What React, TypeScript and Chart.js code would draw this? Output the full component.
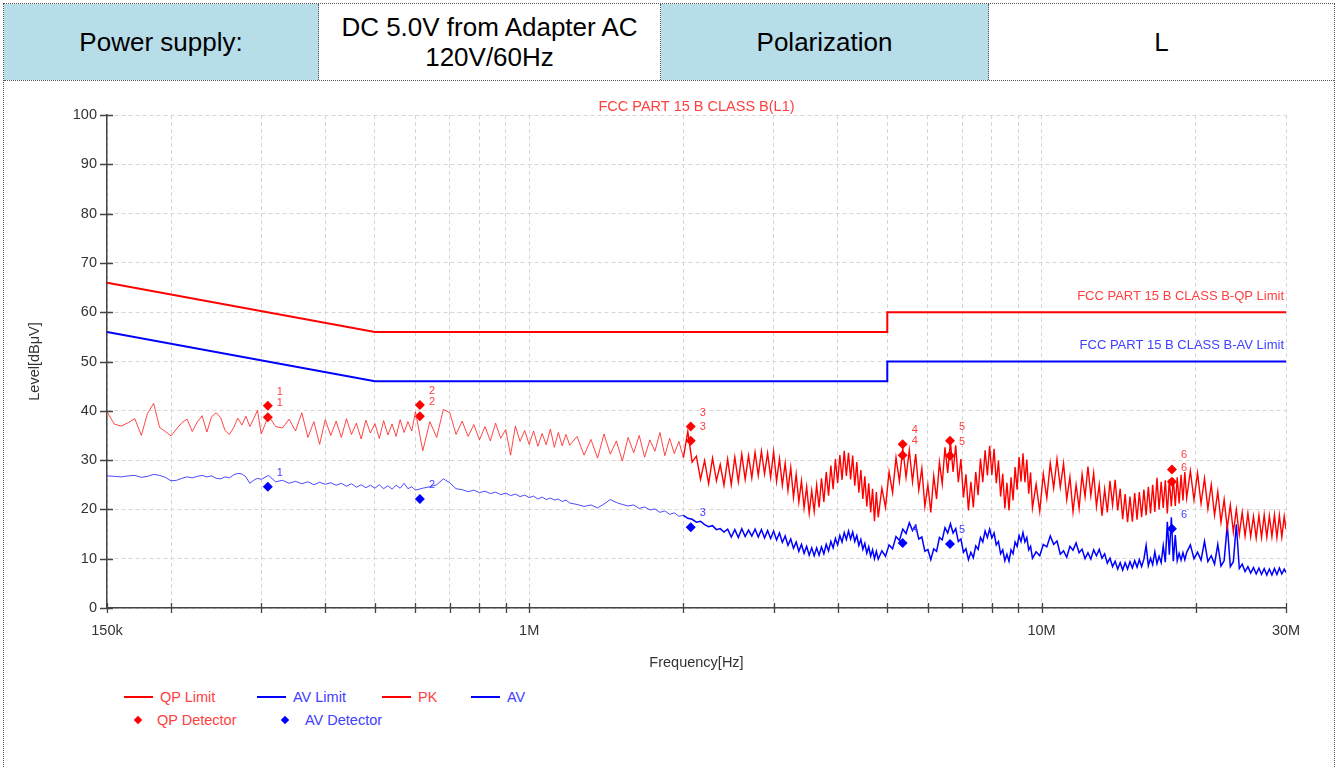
import React, { useEffect, useRef } from 'react';
import { Chart, registerables } from 'chart.js';

Chart.register(...registerables);

const FONT = '"Liberation Sans", Arial, Helvetica, sans-serif';

// ---------- sweep frequencies (kHz) ----------
const F1 = [150, 155, 160, 165, 170, 175, 180, 185, 190, 195, 200, 205, 210, 215, 220, 225, 230, 235, 240, 245, 250, 255, 260, 265, 270, 275, 280, 285, 290, 295, 300];
const F2 = [310, 320, 330, 340, 350, 360, 370, 380, 390, 400, 410, 420, 430, 440, 450, 460, 470, 480, 490, 500, 510, 520, 530, 540, 550, 560, 570, 580, 590, 600];
const F3 = [620, 640, 660, 680, 700, 720, 740, 760, 780, 800, 820, 840, 860, 880, 900, 920, 940, 960, 980, 1000, 1020, 1040, 1060, 1080, 1100, 1120, 1140, 1160, 1180, 1200];
const F4 = [1240, 1280, 1320, 1360, 1400, 1440, 1480, 1520, 1560, 1600, 1640, 1680, 1720, 1760, 1800, 1840, 1880, 1920, 1960, 2000, 2040, 2080, 2120, 2160, 2200, 2240, 2280, 2320, 2360, 2400];
const F5 = [2440, 2480, 2520, 2560, 2600, 2640, 2680, 2720, 2760, 2800, 2840, 2880, 2920, 2960, 3000, 3040, 3080, 3120, 3160, 3200, 3240, 3280, 3320, 3360, 3400, 3440, 3480, 3520, 3560, 3600, 3640, 3680, 3720, 3760, 3800, 3840, 3880, 3920, 3960, 4000, 4040, 4080, 4120, 4160, 4200, 4240, 4280, 4320, 4360, 4400, 4440, 4480, 4520, 4560, 4600, 4640, 4680, 4720, 4760, 4800];
const F6 = [4880, 4960, 5040, 5120, 5200, 5280, 5360, 5440, 5520, 5600, 5680, 5760, 5840, 5920, 6000, 6080, 6160, 6240, 6320, 6400, 6480, 6560, 6640, 6720, 6800, 6880, 6960, 7040, 7120, 7200, 7280, 7360, 7440, 7520, 7600, 7680, 7760, 7840, 7920, 8000, 8080, 8160, 8240, 8320, 8400, 8480, 8560, 8640, 8720, 8800, 8880, 8960, 9040, 9120, 9200, 9280, 9360, 9440, 9520, 9600];
const F7 = [9760, 9920, 10080, 10240, 10400, 10560, 10720, 10880, 11040, 11200, 11360, 11520, 11680, 11840, 12000, 12160, 12320, 12480, 12640, 12800, 12960, 13120, 13280, 13440, 13600, 13760, 13920, 14080, 14240, 14400, 14560, 14720, 14880, 15040, 15200, 15360, 15520, 15680, 15840, 16000, 16160, 16320, 16480, 16640, 16800, 16960, 17120, 17280, 17440, 17600, 17760, 17920, 18080, 18240, 18400, 18560, 18720, 18880, 19040, 19200];
const F8 = [19520, 19840, 20160, 20480, 20800, 21120, 21440, 21760, 22080, 22400, 22720, 23040, 23360, 23680, 24000, 24320, 24640, 24960, 25280, 25600, 25920, 26240, 26560, 26880, 27200, 27520, 27840, 28160, 28480, 28800, 29120, 29440, 29760, 30000];

// ---------- PK trace (dBuV) ----------
const PK1 = [39.8, 37.3, 36.9, 37.6, 38.4, 35.0, 39.5, 41.5, 36.6, 35.8, 34.9, 36.3, 37.6, 38.3, 35.8, 37.7, 39.0, 35.7, 38.8, 39.6, 38.6, 36.0, 35.2, 36.6, 38.5, 37.1, 38.9, 36.8, 38.4, 40.1, 35.3];
const PK2 = [39.0, 36.8, 36.5, 38.3, 35.9, 39.6, 34.6, 37.8, 33.2, 38.2, 35.0, 37.9, 34.6, 38.4, 35.2, 37.5, 34.3, 38.1, 35.5, 37.4, 34.4, 38.0, 35.1, 37.3, 34.8, 38.2, 35.6, 37.8, 35.9, 39.8];
const PK3 = [31.9, 37.8, 34.6, 40.3, 39.6, 35.2, 37.9, 34.8, 37.2, 34.1, 36.8, 33.9, 37.5, 34.4, 36.2, 31.0, 36.9, 33.8, 36.0, 33.2, 35.9, 32.8, 35.4, 33.1, 36.3, 32.6, 35.6, 32.9, 35.2, 33.0];
const PK4 = [34.8, 31.0, 34.2, 30.4, 35.3, 31.2, 33.9, 29.8, 34.6, 31.5, 35.0, 30.6, 34.1, 31.8, 35.6, 30.9, 34.4, 31.3, 33.8, 30.5, 35.8, 29.6, 30.8, 26.1, 29.9, 25.2, 30.4, 25.8, 29.1, 24.9];
const PK5 = [30.2, 25.0, 30.6, 25.6, 31.2, 26.1, 30.9, 26.4, 31.6, 26.9, 31.8, 27.2, 31.4, 26.5, 31.7, 25.7, 30.3, 24.9, 29.4, 23.8, 28.5, 22.4, 27.1, 21.5, 25.8, 20.3, 24.6, 19.2, 23.8, 19.6, 24.9, 20.4, 26.3, 21.5, 27.6, 22.8, 28.9, 24.1, 30.2, 25.3, 31.0, 26.0, 31.9, 26.8, 31.5, 26.1, 30.9, 24.8, 29.6, 23.4, 28.0, 22.1, 26.7, 20.6, 25.3, 19.4, 24.2, 17.6, 23.5, 18.4];
const PK6 = [24.3, 20.4, 27.6, 23.4, 30.5, 25.7, 32.4, 26.5, 32.0, 25.6, 31.2, 23.9, 28.3, 20.6, 25.0, 19.4, 26.8, 22.1, 29.6, 25.2, 32.6, 27.4, 33.8, 27.6, 33.0, 25.5, 30.2, 22.4, 27.1, 19.8, 25.6, 20.4, 27.6, 22.9, 30.3, 25.5, 32.0, 26.9, 32.9, 27.0, 32.3, 25.3, 29.9, 22.6, 27.2, 20.2, 25.4, 19.8, 26.5, 21.8, 28.6, 24.0, 30.6, 25.6, 31.4, 25.5, 30.1, 23.2, 27.5, 20.3];
const PK7 = [25.1, 19.6, 27.2, 22.3, 29.4, 24.3, 30.2, 24.5, 29.3, 22.0, 26.6, 19.5, 25.0, 20.2, 27.1, 22.6, 28.7, 22.8, 27.4, 20.6, 25.0, 18.7, 24.1, 19.4, 25.8, 20.9, 26.0, 19.8, 24.2, 18.0, 23.1, 17.4, 22.6, 17.5, 23.3, 17.9, 23.5, 18.4, 24.0, 18.8, 24.6, 19.2, 25.0, 19.5, 26.4, 20.0, 25.6, 20.3, 25.9, 19.2, 26.1, 20.6, 26.3, 20.7, 26.5, 21.2, 27.0, 21.8, 27.6, 22.3];
const PK8 = [27.8, 21.9, 27.4, 21.2, 26.3, 20.1, 25.0, 18.8, 23.6, 17.4, 22.0, 16.2, 20.9, 15.4, 20.0, 14.9, 19.4, 14.6, 19.2, 14.5, 18.6, 14.2, 18.8, 14.3, 18.9, 14.4, 18.7, 14.5, 18.9, 14.3, 18.8, 14.4, 18.6, 16.0];

// ---------- AV trace (dBuV) ----------
const AV1 = [26.8, 26.7, 26.6, 26.8, 26.9, 26.5, 26.7, 27.1, 26.9, 26.5, 25.8, 25.9, 26.3, 26.6, 26.4, 26.7, 26.9, 26.6, 26.8, 26.3, 26.2, 26.6, 26.4, 27.0, 27.3, 27.2, 26.6, 25.3, 25.9, 26.3, 26.1];
const AV2 = [26.9, 25.6, 25.9, 25.3, 25.7, 25.2, 25.6, 25.0, 25.5, 25.1, 25.4, 24.9, 25.3, 24.7, 25.2, 24.5, 25.0, 24.4, 24.9, 24.3, 25.0, 24.2, 24.8, 24.1, 24.9, 24.3, 25.3, 24.2, 24.6, 23.9];
const AV3 = [24.3, 24.6, 25.0, 26.2, 25.4, 24.2, 24.0, 23.6, 23.9, 23.4, 23.7, 23.2, 23.5, 23.0, 23.3, 22.8, 23.1, 22.6, 22.9, 22.4, 22.7, 22.1, 22.5, 22.0, 22.3, 21.9, 22.1, 21.6, 21.9, 21.3];
const AV4 = [21.0, 20.6, 20.9, 20.3, 21.1, 22.0, 21.4, 21.0, 20.7, 20.9, 20.2, 20.5, 19.9, 20.1, 19.4, 19.7, 19.0, 19.3, 18.6, 18.8, 18.2, 18.0, 17.4, 17.6, 16.9, 16.5, 16.7, 15.9, 16.1, 15.4];
const AV5 = [16.0, 14.4, 15.9, 14.3, 16.1, 14.5, 15.8, 14.6, 16.0, 14.4, 15.9, 14.2, 15.7, 14.1, 15.6, 13.8, 15.2, 13.3, 14.6, 12.7, 14.0, 12.1, 13.4, 11.5, 12.9, 11.1, 12.5, 10.7, 12.2, 10.6, 12.2, 10.7, 12.4, 11.0, 12.9, 11.6, 13.5, 12.2, 14.1, 12.8, 14.7, 13.4, 15.3, 13.9, 15.6, 14.0, 15.4, 13.5, 14.7, 12.7, 13.9, 11.9, 13.1, 11.1, 12.4, 10.5, 11.8, 10.0, 11.5, 9.9];
const AV6 = [11.6, 10.5, 12.8, 12.0, 14.5, 13.7, 16.0, 15.1, 17.3, 15.7, 16.7, 14.0, 14.4, 11.5, 11.9, 9.8, 12.0, 11.5, 14.3, 13.8, 16.3, 15.2, 17.1, 15.2, 16.1, 13.5, 14.0, 11.3, 12.0, 9.8, 11.3, 10.2, 12.6, 11.9, 14.3, 13.4, 15.6, 14.3, 16.0, 14.2, 15.2, 12.8, 13.5, 11.0, 11.8, 9.6, 10.9, 9.5, 11.8, 11.0, 13.4, 12.5, 14.7, 13.5, 15.3, 13.4, 14.3, 11.8, 12.5, 10.1];
const AV7 = [11.4, 10.6, 12.9, 12.4, 14.6, 12.9, 13.6, 10.9, 11.6, 10.3, 12.5, 11.7, 13.2, 11.2, 11.9, 10.0, 11.2, 9.9, 11.8, 10.6, 11.9, 10.1, 11.0, 9.1, 10.1, 8.4, 9.5, 7.9, 9.2, 7.7, 9.2, 7.9, 9.4, 8.1, 9.6, 8.3, 9.8, 8.4, 9.9, 12.7, 8.6, 10.1, 8.8, 11.4, 9.0, 10.5, 9.2, 12.6, 9.3, 17.5, 10.8, 18.4, 9.5, 14.8, 9.6, 11.1, 9.7, 11.2, 9.8, 11.3];
const AV8 = [12.8, 10.0, 11.3, 9.7, 13.5, 9.4, 10.6, 8.9, 12.9, 8.5, 9.6, 16.8, 8.4, 9.4, 17.0, 8.0, 8.9, 7.4, 8.4, 7.1, 8.2, 6.9, 8.1, 6.8, 8.0, 6.7, 7.9, 6.7, 8.0, 6.8, 8.1, 6.9, 7.9, 7.2];

// ---------- limits ----------
const LIMIT_FREQ = [150, 500, 5000, 5000, 30000];
const QP_LIMIT = [66, 56, 56, 60, 60];
const AV_LIMIT = [56, 46, 46, 50, 50];

// ---------- final detector readings ----------
const MARK_FREQ = [309, 612, 2067, 5357, 6627, 17970];
const QP_DET_A = [41.0, 41.2, 36.8, 33.2, 33.9, 28.1];
const QP_DET_B = [38.7, 38.9, 33.9, 31.0, 30.9, 25.6];
const AV_DET = [24.6, 22.1, 16.4, 13.2, 13.0, 16.1];

// ---------- axes ----------
const Y_TICKS = [0, 10, 20, 30, 40, 50, 60, 70, 80, 90, 100];
const X_TICKS = [150, 200, 300, 400, 500, 600, 700, 800, 900, 1000, 2000, 3000, 4000, 5000, 6000, 7000, 8000, 9000, 10000, 20000, 30000];
const X_LABEL_VALUES = [150, 1000, 10000, 30000];
const X_LABEL_TEXT = ['150k', '1M', '10M', '30M'];
const DENSE_FROM_KHZ = 2000;

const TITLE = 'FCC PART 15 B CLASS B(L1)';
const QP_LIMIT_NAME = 'FCC PART 15 B CLASS B-QP Limit';
const AV_LIMIT_NAME = 'FCC PART 15 B CLASS B-AV Limit';

const RED = '#ff0000';
const BLUE = '#0000ff';
const RED_SOFT = 'rgba(255,30,30,0.82)';
const BLUE_SOFT = 'rgba(30,30,255,0.8)';
const RED_TEXT = '#ff4040';
const BLUE_TEXT = '#4040ff';

const FREQ = [...F1, ...F2, ...F3, ...F4, ...F5, ...F6, ...F7, ...F8];
const PK = [...PK1, ...PK2, ...PK3, ...PK4, ...PK5, ...PK6, ...PK7, ...PK8];
const AV = [...AV1, ...AV2, ...AV3, ...AV4, ...AV5, ...AV6, ...AV7, ...AV8];

const overlayPlugin = {
  id: 'overlay',
  afterDraw(chart: any) {
    const { ctx, chartArea, scales } = chart;
    const xs = scales.x;
    const ys = scales.y;
    ctx.save();
    ctx.strokeStyle = '#444';
    ctx.lineWidth = 1.3;
    ctx.beginPath();
    for (const v of Y_TICKS) {
      const y = Math.round(ys.getPixelForValue(v)) + 0.5;
      ctx.moveTo(chartArea.left - 7, y);
      ctx.lineTo(chartArea.left + 6, y);
    }
    for (const v of X_TICKS) {
      const x = Math.round(xs.getPixelForValue(v)) + 0.5;
      ctx.moveTo(x, chartArea.bottom - 5);
      ctx.lineTo(x, chartArea.bottom + 5);
    }
    ctx.stroke();

    ctx.textBaseline = 'middle';
    ctx.textAlign = 'center';
    ctx.font = `14.5px ${FONT}`;
    ctx.fillStyle = RED_TEXT;
    ctx.fillText(TITLE, (chartArea.left + chartArea.right) / 2, chartArea.top - 8);

    ctx.textAlign = 'right';
    ctx.font = `13px ${FONT}`;
    ctx.fillStyle = RED_TEXT;
    ctx.fillText(QP_LIMIT_NAME, chartArea.right - 2, ys.getPixelForValue(QP_LIMIT[QP_LIMIT.length - 1]) - 16);
    ctx.fillStyle = BLUE_TEXT;
    ctx.fillText(AV_LIMIT_NAME, chartArea.right - 2, ys.getPixelForValue(AV_LIMIT[AV_LIMIT.length - 1]) - 16);

    ctx.textAlign = 'left';
    ctx.font = `11px ${FONT}`;
    MARK_FREQ.forEach((f, i) => {
      const x = xs.getPixelForValue(f) + 9;
      ctx.fillStyle = RED_TEXT;
      ctx.fillText(String(i + 1), x, ys.getPixelForValue(QP_DET_A[i]) - 14);
      ctx.fillText(String(i + 1), x, ys.getPixelForValue(QP_DET_B[i]) - 14);
      ctx.fillStyle = BLUE_TEXT;
      ctx.fillText(String(i + 1), x, ys.getPixelForValue(AV_DET[i]) - 14);
    });
    ctx.restore();
  },
};

function EmiChart() {
  const ref = useRef<HTMLCanvasElement | null>(null);
  useEffect(() => {
    if (!ref.current) return;
    const xy = (fs: number[], vs: number[]) => fs.map((f, i) => ({ x: f, y: vs[i] }));
    const qpDet = [...xy(MARK_FREQ, QP_DET_A), ...xy(MARK_FREQ, QP_DET_B)];
    const dense = (c: any) => c.p0.parsed.x >= DENSE_FROM_KHZ;
    const chart = new Chart(ref.current, {
      type: 'line',
      data: {
        datasets: [
          {
            label: 'PK', data: xy(FREQ, PK), borderColor: RED, borderWidth: 1, pointRadius: 0, tension: 0,
            segment: { borderWidth: (c: any) => (dense(c) ? 1.4 : 1), borderColor: (c: any) => (dense(c) ? RED : RED_SOFT) },
          },
          {
            label: 'AV', data: xy(FREQ, AV), borderColor: BLUE, borderWidth: 1, pointRadius: 0, tension: 0,
            segment: { borderWidth: (c: any) => (dense(c) ? 1.5 : 1), borderColor: (c: any) => (dense(c) ? BLUE : BLUE_SOFT) },
          },
          { label: 'QP Limit', data: xy(LIMIT_FREQ, QP_LIMIT), borderColor: RED, borderWidth: 2, pointRadius: 0, tension: 0 },
          { label: 'AV Limit', data: xy(LIMIT_FREQ, AV_LIMIT), borderColor: BLUE, borderWidth: 2, pointRadius: 0, tension: 0 },
          { label: 'QP Detector', data: qpDet, showLine: false, pointStyle: 'rectRot', pointRadius: 5, backgroundColor: RED, borderColor: RED, borderWidth: 0 },
          { label: 'AV Detector', data: xy(MARK_FREQ, AV_DET), showLine: false, pointStyle: 'rectRot', pointRadius: 5, backgroundColor: BLUE, borderColor: BLUE, borderWidth: 0 },
        ],
      } as any,
      options: {
        animation: false,
        responsive: false,
        layout: { padding: { left: 0, right: 52, top: 35, bottom: 0 } },
        plugins: { legend: { display: false }, tooltip: { enabled: false }, title: { display: false } },
        scales: {
          x: {
            type: 'logarithmic',
            min: 150,
            max: 30000,
            afterBuildTicks: (s: any) => { s.ticks = X_TICKS.map((v) => ({ value: v })); },
            afterFit: (s: any) => { s.height = 72; },
            ticks: {
              autoSkip: false,
              maxRotation: 0,
              padding: 14,
              color: '#333',
              font: { family: FONT, size: 14.5 },
              callback: (v: any) => {
                const k = X_LABEL_VALUES.indexOf(Number(v));
                return k >= 0 ? X_LABEL_TEXT[k] : '';
              },
            },
            grid: { color: '#d6d6d6', lineWidth: 1, drawTicks: false },
            border: { display: true, color: '#444', width: 1.5, dash: [4, 3] },
            title: { display: true, text: 'Frequency[Hz]', color: '#333', font: { family: FONT, size: 14.5 }, padding: { top: 0, bottom: 8 } },
          },
          y: {
            type: 'linear',
            min: 0,
            max: 100,
            afterBuildTicks: (s: any) => { s.ticks = Y_TICKS.map((v) => ({ value: v })); },
            afterFit: (s: any) => { s.width = 107; },
            ticks: { padding: 10, color: '#333', font: { family: FONT, size: 14.5 } },
            grid: { color: '#d6d6d6', lineWidth: 1, drawTicks: false },
            border: { display: true, color: '#444', width: 1.5, dash: [4, 3] },
            title: { display: true, text: 'Level[dBμV]', color: '#333', font: { family: FONT, size: 14.5 }, padding: { top: 26, bottom: 0 } },
          },
        },
      } as any,
      plugins: [overlayPlugin],
    });
    return () => chart.destroy();
  }, []);
  return (
    <canvas
      ref={ref}
      width={1338}
      height={600}
      style={{ position: 'absolute', left: 0, top: 80, width: 1338, height: 600 }}
    />
  );
}

const DOT = '1px dotted #555';
const LIGHT_BLUE = '#b7dde8';

const cell = (left: number, width: number, bg: string, last = false): React.CSSProperties => ({
  position: 'absolute',
  left,
  top: 0,
  width,
  height: 76,
  background: bg,
  borderRight: last ? 'none' : DOT,
  boxSizing: 'border-box',
  display: 'flex',
  alignItems: 'center',
  justifyContent: 'center',
  textAlign: 'center',
  fontFamily: FONT,
  fontSize: 26,
  lineHeight: '30px',
  color: '#000',
});

const legendText = (left: number, top: number, color: string): React.CSSProperties => ({
  position: 'absolute',
  left,
  top,
  fontFamily: FONT,
  fontSize: 14.5,
  lineHeight: '18px',
  color,
  whiteSpace: 'nowrap',
});

const legendLine = (left: number, top: number, color: string): React.CSSProperties => ({
  position: 'absolute',
  left,
  top,
  width: 29,
  height: 2,
  background: color,
});

const legendDiamond = (cx: number, cy: number, color: string): React.CSSProperties => ({
  position: 'absolute',
  left: cx - 3,
  top: cy - 3,
  width: 6,
  height: 6,
  background: color,
  transform: 'rotate(45deg)',
});

export default function App() {
  return (
    <div style={{ position: 'absolute', left: 0, top: 0, width: 1338, height: 767, background: '#fff', overflow: 'hidden' }}>
      <div
        style={{
          position: 'absolute',
          left: 3,
          top: 3,
          width: 1332,
          height: 770,
          borderLeft: DOT,
          borderRight: DOT,
          borderTop: DOT,
          boxSizing: 'border-box',
        }}
      >
        <div style={{ position: 'absolute', left: 0, top: 0, width: 1330, height: 77, borderBottom: DOT, boxSizing: 'border-box' }}>
          <div style={cell(0, 315, LIGHT_BLUE)}>Power supply:</div>
          <div style={cell(315, 342, '#fff')}>
            <span>DC 5.0V from Adapter AC<br />120V/60Hz</span>
          </div>
          <div style={cell(657, 328, LIGHT_BLUE)}>Polarization</div>
          <div style={cell(985, 345, '#fff', true)}>L</div>
        </div>
      </div>
      <EmiChart />
      <div style={legendLine(124, 696, RED)} />
      <div style={legendText(160, 688, RED_TEXT)}>QP Limit</div>
      <div style={legendLine(257, 696, BLUE)} />
      <div style={legendText(293, 688, BLUE_TEXT)}>AV Limit</div>
      <div style={legendLine(382, 696, RED)} />
      <div style={legendText(418, 688, RED_TEXT)}>PK</div>
      <div style={legendLine(471, 696, BLUE)} />
      <div style={legendText(507, 688, BLUE_TEXT)}>AV</div>
      <div style={legendDiamond(138, 720, RED)} />
      <div style={legendText(157, 711, RED_TEXT)}>QP Detector</div>
      <div style={legendDiamond(285, 720, BLUE)} />
      <div style={legendText(305, 711, BLUE_TEXT)}>AV Detector</div>
    </div>
  );
}
